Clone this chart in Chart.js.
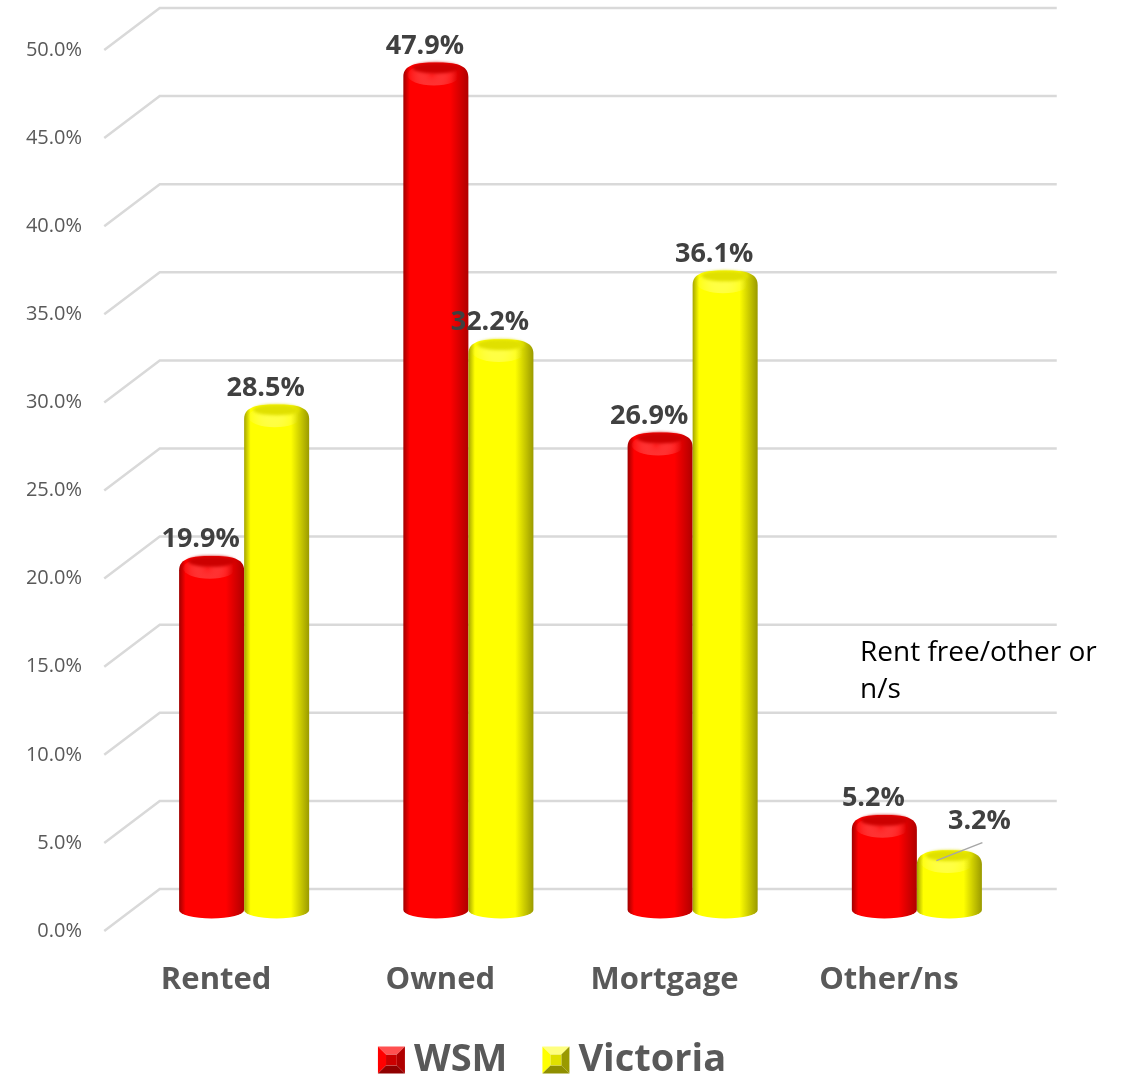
<!DOCTYPE html>
<html>
<head>
<meta charset="utf-8">
<script src="https://cdn.jsdelivr.net/npm/chart.js@4.4.0/dist/chart.umd.min.js"></script>
<style>
html, body { margin: 0; padding: 0; background: #fff; }
</style>
</head>
<body>
<canvas id="tenureChart" width="1125" height="1079"></canvas>
<script>
const categories = ["Rented", "Owned", "Mortgage", "Other/ns"];
const seriesNames = ["WSM", "Victoria"];
const wsmValues = [19.9, 47.9, 26.9, 5.2];
const victoriaValues = [28.5, 32.2, 36.1, 3.2];
const noteLines = ["Rent free/other or", "n/s"];

const FONT = "'Open Sans', 'Noto Sans', sans-serif";
const DEPTH_X = 27.75, DEPTH_Y = 21;

// shading for the cylinders and legend bevels
const shades = [
    { main: '#ff0000', left: '#a00000', right: '#b00000', cap: '#cc0000', glow: '#ff3a3a', light: '#ff5050', dark: '#900000' },
    { main: '#ffff00', left: '#a5a500', right: '#9a9a00', cap: '#e0e000', glow: '#ffff70', light: '#ffff80', dark: '#8f8f00' }
];

function drawCylinder(ctx, x, valueY, base, w, s) {
    const l = x - w / 2, r = x + w / 2, ry = w * 0.13;
    const top = valueY + 5;          // centre of the top ellipse
    const peak = top - ry;           // highest point of the rounded cap
    const g = ctx.createLinearGradient(l, 0, r, 0);
    g.addColorStop(0, s.left);
    g.addColorStop(0.1, s.main);
    g.addColorStop(0.72, s.main);
    g.addColorStop(1, s.right);

    ctx.save();
    ctx.beginPath();
    ctx.moveTo(l, base);
    ctx.lineTo(l, Math.min(top + 6, base));
    ctx.bezierCurveTo(l, peak + 2, x - w * 0.3, peak, x, peak);
    ctx.bezierCurveTo(x + w * 0.3, peak, r, peak + 2, r, Math.min(top + 6, base));
    ctx.lineTo(r, base);
    ctx.ellipse(x, base, w / 2, ry, 0, 0, Math.PI, false);
    ctx.closePath();
    ctx.fillStyle = g;
    ctx.fill();

    // soft highlight under the cap
    const hg = ctx.createRadialGradient(x - 4, top + 4, 1, x - 4, top + 4, w * 0.4);
    hg.addColorStop(0, s.glow);
    hg.addColorStop(1, 'rgba(255,255,255,0)');
    ctx.beginPath();
    ctx.ellipse(x - 2, top + 4, w / 2 - 6, ry + 2, 0, 0, Math.PI * 2);
    ctx.fillStyle = hg;
    ctx.globalAlpha = 0.6;
    ctx.fill();
    ctx.globalAlpha = 1;

    // darker flat top
    ctx.beginPath();
    ctx.ellipse(x, top - 3, w / 2 - 9, ry - 3, 0, 0, Math.PI * 2);
    ctx.fillStyle = s.cap;
    ctx.filter = 'blur(1.5px)';
    ctx.fill();
    ctx.filter = 'none';
    ctx.restore();
}

function drawBevelBox(ctx, x, y, size, s) {
    const b = size * 0.3;
    const pts = (arr) => { ctx.beginPath(); arr.forEach((p, i) => i ? ctx.lineTo(p[0], p[1]) : ctx.moveTo(p[0], p[1])); ctx.closePath(); ctx.fill(); };
    ctx.fillStyle = s.light;
    pts([[x, y], [x + size, y], [x + size - b, y + b], [x + b, y + b]]);
    ctx.fillStyle = s.main;
    pts([[x, y], [x + b, y + b], [x + b, y + size - b], [x, y + size]]);
    ctx.fillStyle = s.right;
    pts([[x + size, y], [x + size, y + size], [x + size - b, y + size - b], [x + size - b, y + b]]);
    ctx.fillStyle = s.dark;
    pts([[x, y + size], [x + b, y + size - b], [x + size - b, y + size - b], [x + size, y + size]]);
    ctx.fillStyle = s.cap;
    ctx.fillRect(x + b, y + b, size - 2 * b, size - 2 * b);
}

const cylinderPlugin = {
    id: 'cylinders',
    beforeDatasetsDraw(chart) {
        const { ctx, chartArea, scales } = chart;
        ctx.save();
        ctx.strokeStyle = '#d9d9d9';
        ctx.lineWidth = 2.5;
        scales.y.ticks.forEach(t => {
            const y = scales.y.getPixelForValue(t.value);
            ctx.beginPath();
            ctx.moveTo(chartArea.left - DEPTH_X, y + DEPTH_Y);
            ctx.lineTo(chartArea.left + DEPTH_X, y - DEPTH_Y);
            ctx.lineTo(chartArea.right + DEPTH_X, y - DEPTH_Y);
            ctx.stroke();
        });
        ctx.restore();
    },
    beforeDatasetDraw() {
        return false;
    },
    afterDatasetsDraw(chart) {
        const { ctx } = chart;
        const metas = chart.data.datasets.map((d, i) => chart.getDatasetMeta(i));
        categories.forEach((c, idx) => {
            metas.forEach((m, di) => {
                const bar = m.data[idx];
                drawCylinder(ctx, bar.x, bar.y, bar.base, bar.width, shades[di]);
            });
        });

        ctx.save();
        ctx.font = `bold 27px ${FONT}`;
        ctx.fillStyle = '#404040';
        ctx.textAlign = 'center';
        ctx.textBaseline = 'middle';
        metas.forEach((m, di) => {
            m.data.forEach((bar, idx) => {
                const v = chart.data.datasets[di].data[idx];
                let lx = bar.x - 11, ly = bar.y - 20;
                if (di === 1 && idx === 3) {
                    // label pulled out with a leader line
                    lx = bar.x + 30; ly = bar.y - 32;
                    ctx.save();
                    ctx.strokeStyle = '#a6a6a6';
                    ctx.lineWidth = 1.5;
                    ctx.beginPath();
                    ctx.moveTo(bar.x - 13, bar.y + 7);
                    ctx.lineTo(bar.x + 33, bar.y - 11);
                    ctx.stroke();
                    ctx.restore();
                }
                ctx.fillText(v.toFixed(1) + '%', lx, ly);
            });
        });
        ctx.restore();
    },
    afterDraw(chart) {
        const { ctx } = chart;
        ctx.save();
        // note text
        ctx.font = `28px ${FONT}`;
        ctx.fillStyle = '#000000';
        ctx.textAlign = 'left';
        ctx.textBaseline = 'middle';
        ctx.fillText(noteLines[0], 860, 653);
        ctx.fillText(noteLines[1], 860, 690);

        // legend
        ctx.font = `bold 38px ${FONT}`;
        ctx.fillStyle = '#595959';
        const box = 27, gap = 9, between = 35;
        const widths = seriesNames.map(n => box + gap + ctx.measureText(n).width);
        const total = widths.reduce((a, b) => a + b, 0) + between * (seriesNames.length - 1);
        let x = 552 - total / 2;
        const cy = 1060;
        seriesNames.forEach((n, i) => {
            drawBevelBox(ctx, x, cy - box / 2, box, shades[i]);
            ctx.fillStyle = '#595959';
            ctx.fillText(n, x + box + gap, cy);
            x += widths[i] + between;
        });
        ctx.restore();
    }
};

new Chart(document.getElementById('tenureChart'), {
    type: 'bar',
    data: {
        labels: categories,
        datasets: [
            { label: seriesNames[0], data: wsmValues, backgroundColor: shades[0].main },
            { label: seriesNames[1], data: victoriaValues, backgroundColor: shades[1].main }
        ]
    },
    options: {
        responsive: false,
        animation: false,
        layout: { padding: { top: 29, right: 96, left: 0, bottom: 0 } },
        datasets: { bar: { categoryPercentage: 0.58, barPercentage: 1.0 } },
        scales: {
            x: {
                grid: { display: false, drawTicks: false },
                border: { display: false },
                ticks: {
                    labelOffset: -28,
                    padding: 52,
                    color: '#595959',
                    font: { family: FONT, size: 31, weight: 'bold' }
                },
                afterFit(scale) { scale.height = 169; }
            },
            y: {
                min: 0,
                max: 50,
                grid: { display: false, drawTicks: false },
                border: { display: false },
                ticks: {
                    stepSize: 5,
                    labelOffset: 21,
                    padding: 50,
                    color: '#595959',
                    font: { family: FONT, size: 20 },
                    callback: v => v.toFixed(1) + '%'
                },
                afterFit(scale) {
                    scale.width = 132;
                    scale.paddingTop = 0;
                    scale.paddingBottom = 0;
                }
            }
        },
        plugins: {
            legend: { display: false },
            tooltip: { enabled: false }
        }
    },
    plugins: [cylinderPlugin]
});
</script>
</body>
</html>
